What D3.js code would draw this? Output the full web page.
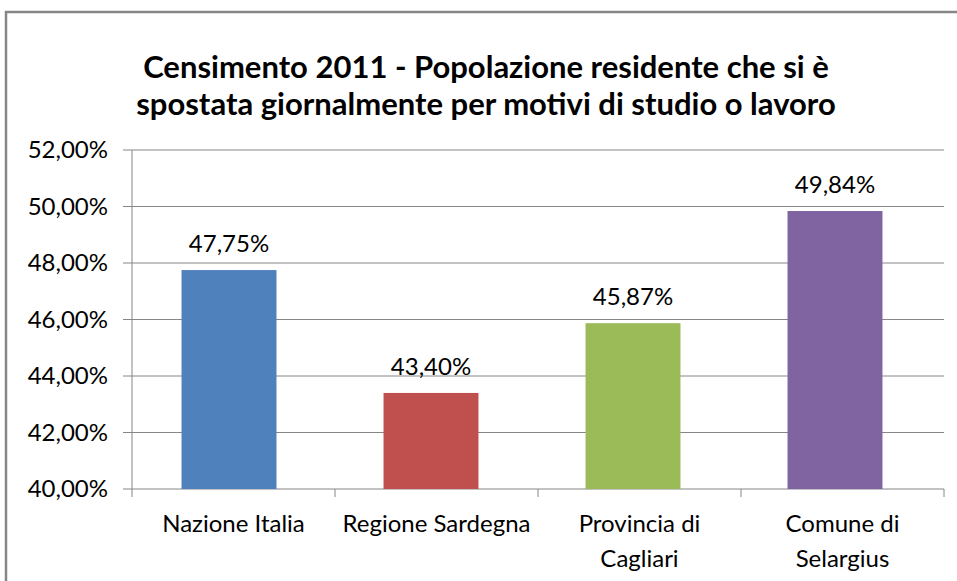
<!DOCTYPE html>
<html>
<head>
<meta charset="utf-8">
<script src="https://cdn.jsdelivr.net/npm/d3@7"></script>
<style>
  body { margin: 0; background: #fff; }
  svg text { font-family: Lato, "Open Sans", sans-serif; fill: #000; }
</style>
</head>
<body>
<div id="chartContainer"></div>
<script>
const categories = [["Nazione Italia"], ["Regione Sardegna"], ["Provincia di", "Cagliari"], ["Comune di", "Selargius"]];
const values = [47.75, 43.40, 45.87, 49.84];
const barColors = ["#4f81bd", "#c0504d", "#9bbb59", "#8064a2"];
const yTicks = [40, 42, 44, 46, 48, 50, 52];
const titleLines = ["Censimento 2011 - Popolazione residente che si è", "spostata giornalmente per motivi di studio o lavoro"];

const W = 957, H = 581;
const svg = d3.select("#chartContainer").append("svg")
    .attr("width", W).attr("height", H);

// chart frame
svg.append("rect")
    .attr("x", 6).attr("y", 12)
    .attr("width", W + 10).attr("height", H + 10)
    .attr("fill", "#fff").attr("stroke", "#868686").attr("stroke-width", 2.5);

const plotLeft = 132, plotRight = 944, plotTop = 150, plotBottom = 489;
const fmt = v => d3.format(".2f")(v).replace(".", ",") + "%";

const x = d3.scaleBand().domain(d3.range(categories.length)).range([plotLeft - 4, plotRight - 8]).paddingInner(0.53).paddingOuter(0.265);
const y = d3.scaleLinear().domain([40, 52]).range([plotBottom, plotTop]);

// title
svg.append("g").selectAll("text").data(titleLines).join("text")
    .attr("x", 486).attr("y", (d, i) => 78 + i * 37)
    .attr("text-anchor", "middle")
    .style("font-size", "31px").style("font-weight", "bold")
    .text(d => d);

// gridlines
svg.append("g").selectAll("line").data(yTicks).join("line")
    .attr("x1", plotLeft - 9).attr("x2", plotRight)
    .attr("y1", d => y(d)).attr("y2", d => y(d))
    .attr("stroke", "#868686").attr("stroke-width", 1);

// y labels
svg.append("g").selectAll("text").data(yTicks).join("text")
    .attr("x", 108).attr("y", d => y(d) + 8)
    .attr("text-anchor", "end")
    .style("font-size", "24px")
    .text(d => fmt(d));

// axes lines
svg.append("line").attr("x1", plotLeft).attr("x2", plotLeft).attr("y1", plotTop).attr("y2", plotBottom + 8)
    .attr("stroke", "#868686");
const bandStep = (plotRight - plotLeft) / categories.length;
svg.append("g").selectAll("line").data(d3.range(1, categories.length + 1)).join("line")
    .attr("x1", d => plotLeft + d * bandStep).attr("x2", d => plotLeft + d * bandStep)
    .attr("y1", plotBottom).attr("y2", plotBottom + 8)
    .attr("stroke", "#868686");

// bars
svg.append("g").selectAll("rect").data(values).join("rect")
    .attr("x", (d, i) => x(i))
    .attr("width", x.bandwidth())
    .attr("y", d => y(d))
    .attr("height", d => y(40) - y(d))
    .attr("fill", (d, i) => barColors[i]);

// value labels
svg.append("g").selectAll("text").data(values).join("text")
    .attr("x", (d, i) => x(i) + x.bandwidth() / 2)
    .attr("y", d => y(d) - 18)
    .attr("text-anchor", "middle")
    .style("font-size", "24px")
    .text(d => fmt(d));

// category labels
const cat = svg.append("g").selectAll("text").data(categories).join("text")
    .attr("x", (d, i) => plotLeft + (i + 0.5) * bandStep)
    .attr("y", 532)
    .attr("text-anchor", "middle")
    .style("font-size", "24px");
cat.selectAll("tspan").data(d => d).join("tspan")
    .attr("x", function() { return d3.select(this.parentNode).attr("x"); })
    .attr("dy", (d, i) => i === 0 ? 0 : 35)
    .text(d => d);
</script>
</body>
</html>
